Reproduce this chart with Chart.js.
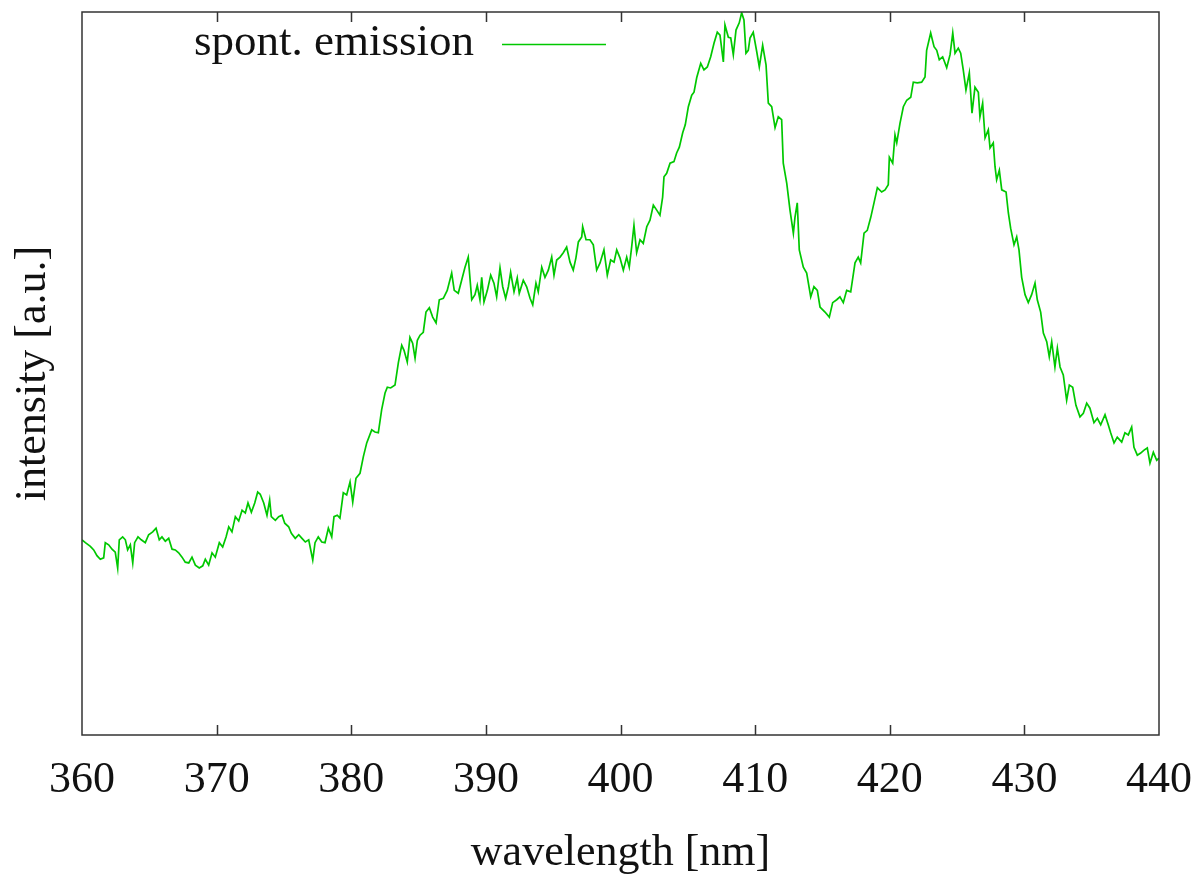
<!DOCTYPE html>
<html>
<head>
<meta charset="utf-8">
<script src="https://cdn.jsdelivr.net/npm/chart.js@4.4.1/dist/chart.umd.min.js"></script>
<style>
  html, body { margin: 0; padding: 0; background: #fff; }
  #wrap { width: 1197px; height: 875px; }
</style>
</head>
<body>
<div id="wrap"><canvas id="chart" width="1197" height="875"></canvas></div>
<script>
'use strict';

// ── dados ───────────────────────────────────────────────────────────────────
const X_TICKS = [360, 370, 380, 390, 400, 410, 420, 430, 440];
const SERIES_LABEL = 'spont. emission';

const WAVELENGTH = [
  360.00, 360.25, 360.62, 360.87, 361.11, 361.36, 361.61, 361.73, 361.98, 362.23,
  362.47, 362.65, 362.77, 363.02, 363.22, 363.39, 363.59, 363.77, 363.91, 364.16,
  364.40, 364.70, 364.95, 365.25, 365.50, 365.74, 365.94, 366.19, 366.44, 366.69,
  366.93, 367.18, 367.43, 367.67, 367.93, 368.17, 368.42, 368.71, 368.97, 369.16,
  369.41, 369.66, 369.90, 370.20, 370.45, 370.70, 370.90, 371.14, 371.39, 371.64,
  371.89, 372.13, 372.33, 372.58, 372.83, 373.05, 373.24, 373.50, 373.74, 373.94,
  374.06, 374.36, 374.61, 374.86, 375.06, 375.35, 375.55, 375.84, 376.10, 376.34,
  376.59, 376.84, 377.14, 377.31, 377.55, 377.81, 378.05, 378.30, 378.55, 378.72,
  378.96, 379.16, 379.41, 379.66, 379.91, 380.11, 380.35, 380.65, 380.90, 381.15,
  381.52, 381.76, 382.01, 382.26, 382.51, 382.68, 382.93, 383.25, 383.50, 383.75,
  383.92, 384.16, 384.36, 384.56, 384.74, 384.91, 385.11, 385.35, 385.55, 385.80,
  386.05, 386.30, 386.54, 386.84, 387.13, 387.46, 387.65, 387.95, 388.20, 388.45,
  388.69, 388.95, 389.19, 389.36, 389.56, 389.69, 389.86, 390.11, 390.36, 390.60,
  390.80, 391.05, 391.25, 391.47, 391.67, 391.84, 392.09, 392.33, 392.48, 392.78,
  393.03, 393.28, 393.48, 393.72, 393.89, 394.15, 394.39, 394.64, 394.89, 395.06,
  395.26, 395.51, 395.75, 396.00, 396.25, 396.49, 396.69, 396.87, 397.12, 397.19,
  397.44, 397.73, 397.98, 398.23, 398.48, 398.77, 399.02, 399.27, 399.52, 399.72,
  399.96, 400.21, 400.46, 400.65, 400.83, 401.00, 401.20, 401.45, 401.69, 401.95,
  402.19, 402.44, 402.69, 402.93, 403.13, 403.23, 403.43, 403.68, 403.97, 404.17,
  404.37, 404.62, 404.81, 405.04, 405.29, 405.46, 405.66, 405.96, 406.20, 406.45,
  406.70, 406.95, 407.19, 407.39, 407.64, 407.76, 408.01, 408.19, 408.38, 408.58,
  408.82, 409.00, 409.17, 409.32, 409.49, 409.62, 409.86, 410.12, 410.31, 410.56,
  410.81, 410.98, 411.23, 411.48, 411.72, 411.97, 412.09, 412.35, 412.59, 412.84,
  412.96, 413.13, 413.28, 413.58, 413.83, 414.13, 414.37, 414.62, 414.82, 415.19,
  415.51, 415.76, 416.06, 416.30, 416.55, 416.80, 417.10, 417.42, 417.66, 417.84,
  418.09, 418.33, 418.59, 418.83, 419.08, 419.40, 419.65, 419.89, 419.97, 420.22,
  420.39, 420.52, 420.76, 421.01, 421.26, 421.56, 421.75, 422.05, 422.37, 422.62,
  422.74, 423.04, 423.29, 423.49, 423.68, 423.93, 424.23, 424.48, 424.68, 424.85,
  425.09, 425.27, 425.46, 425.66, 425.91, 426.11, 426.33, 426.58, 426.70, 426.90,
  427.08, 427.32, 427.45, 427.69, 427.82, 427.94, 428.14, 428.32, 428.64, 428.81,
  428.98, 429.23, 429.43, 429.60, 429.80, 430.05, 430.29, 430.54, 430.79, 430.96,
  431.21, 431.41, 431.66, 431.85, 432.03, 432.27, 432.45, 432.65, 432.89, 433.14,
  433.34, 433.59, 433.83, 434.13, 434.38, 434.63, 434.87, 435.17, 435.42, 435.67,
  435.99, 436.23, 436.41, 436.66, 436.90, 437.23, 437.47, 437.72, 437.97, 438.14,
  438.39, 438.64, 438.89, 439.13, 439.33, 439.58, 439.83, 440.00
];

const INTENSITY = [
  0.270, 0.266, 0.261, 0.256, 0.248, 0.243, 0.245, 0.266, 0.263, 0.257,
  0.253, 0.231, 0.270, 0.274, 0.270, 0.256, 0.263, 0.238, 0.266, 0.274,
  0.270, 0.266, 0.277, 0.281, 0.286, 0.270, 0.274, 0.268, 0.272, 0.257,
  0.256, 0.252, 0.246, 0.239, 0.238, 0.246, 0.235, 0.231, 0.234, 0.243,
  0.235, 0.252, 0.246, 0.266, 0.260, 0.274, 0.288, 0.281, 0.302, 0.296,
  0.311, 0.307, 0.321, 0.308, 0.321, 0.336, 0.333, 0.321, 0.304, 0.325,
  0.302, 0.297, 0.302, 0.304, 0.293, 0.288, 0.279, 0.272, 0.277, 0.272,
  0.267, 0.270, 0.242, 0.266, 0.274, 0.267, 0.266, 0.286, 0.274, 0.302,
  0.304, 0.300, 0.335, 0.332, 0.350, 0.322, 0.355, 0.362, 0.385, 0.404,
  0.422, 0.419, 0.418, 0.450, 0.473, 0.481, 0.480, 0.484, 0.515, 0.539,
  0.532, 0.516, 0.550, 0.542, 0.521, 0.546, 0.553, 0.557, 0.585, 0.591,
  0.578, 0.570, 0.602, 0.604, 0.615, 0.639, 0.615, 0.611, 0.629, 0.647,
  0.661, 0.602, 0.609, 0.622, 0.602, 0.633, 0.599, 0.615, 0.636, 0.625,
  0.606, 0.646, 0.620, 0.604, 0.620, 0.640, 0.613, 0.632, 0.611, 0.629,
  0.620, 0.604, 0.595, 0.625, 0.613, 0.647, 0.633, 0.643, 0.661, 0.636,
  0.657, 0.661, 0.667, 0.675, 0.654, 0.643, 0.660, 0.682, 0.689, 0.703,
  0.685, 0.685, 0.678, 0.643, 0.653, 0.671, 0.636, 0.657, 0.654, 0.671,
  0.660, 0.643, 0.661, 0.647, 0.675, 0.705, 0.667, 0.685, 0.680, 0.703,
  0.712, 0.733, 0.726, 0.719, 0.744, 0.772, 0.777, 0.791, 0.793, 0.805,
  0.813, 0.833, 0.844, 0.869, 0.885, 0.889, 0.909, 0.929, 0.920, 0.924,
  0.938, 0.957, 0.972, 0.968, 0.931, 0.982, 0.965, 0.964, 0.941, 0.975,
  0.985, 0.999, 0.989, 0.943, 0.947, 0.964, 0.972, 0.945, 0.924, 0.954,
  0.927, 0.874, 0.869, 0.840, 0.855, 0.851, 0.791, 0.763, 0.726, 0.694,
  0.716, 0.736, 0.671, 0.647, 0.639, 0.606, 0.620, 0.615, 0.592, 0.585,
  0.578, 0.598, 0.602, 0.606, 0.598, 0.615, 0.613, 0.653, 0.661, 0.653,
  0.694, 0.698, 0.716, 0.736, 0.757, 0.751, 0.754, 0.761, 0.799, 0.791,
  0.830, 0.819, 0.846, 0.869, 0.878, 0.882, 0.903, 0.902, 0.903, 0.910,
  0.947, 0.971, 0.952, 0.947, 0.934, 0.938, 0.923, 0.941, 0.971, 0.943,
  0.950, 0.943, 0.920, 0.892, 0.916, 0.860, 0.896, 0.889, 0.855, 0.874,
  0.826, 0.837, 0.812, 0.819, 0.786, 0.768, 0.781, 0.754, 0.751, 0.722,
  0.701, 0.678, 0.689, 0.671, 0.633, 0.609, 0.598, 0.609, 0.625, 0.602,
  0.585, 0.556, 0.544, 0.523, 0.544, 0.509, 0.535, 0.509, 0.498, 0.463,
  0.484, 0.481, 0.456, 0.440, 0.445, 0.459, 0.452, 0.432, 0.438, 0.429,
  0.443, 0.429, 0.418, 0.404, 0.412, 0.405, 0.418, 0.415, 0.426, 0.398,
  0.387, 0.390, 0.394, 0.397, 0.376, 0.391, 0.380, 0.383
];

// ── estilo ──────────────────────────────────────────────────────────────────
const COLOR_LINE  = '#00c800';
const COLOR_FRAME = '#333333';
const COLOR_TEXT  = '#111111';
const FONT_FAMILY = '"Liberation Serif", "Times New Roman", serif';

// moldura + ticks para dentro (em cima e em baixo)
const framePlugin = {
    id: 'frame',
    afterDraw(chart) {
        const { ctx, chartArea: a } = chart;
        const xs = chart.scales.x;
        ctx.save();
        ctx.strokeStyle = COLOR_FRAME;
        ctx.lineWidth = 1.5;
        ctx.strokeRect(a.left, a.top, a.right - a.left, a.bottom - a.top);
        ctx.beginPath();
        X_TICKS.slice(1, -1).forEach(v => {
            const px = Math.round(xs.getPixelForValue(v)) + 0.5;
            ctx.moveTo(px, a.bottom);
            ctx.lineTo(px, a.bottom - 10);
            ctx.moveTo(px, a.top);
            ctx.lineTo(px, a.top + 10);
        });
        ctx.stroke();
        ctx.restore();
    },
};

// legenda estilo gnuplot: texto à direita, amostra da linha à esquerda
const keyPlugin = {
    id: 'gnuKey',
    afterDraw(chart) {
        const { ctx } = chart;
        ctx.save();
        ctx.font = `45px ${FONT_FAMILY}`;
        ctx.fillStyle = COLOR_TEXT;
        ctx.textAlign = 'right';
        ctx.textBaseline = 'alphabetic';
        ctx.fillText(SERIES_LABEL, 474, 55);
        ctx.strokeStyle = COLOR_LINE;
        ctx.lineWidth = 1.5;
        ctx.beginPath();
        ctx.moveTo(502, 44.5);
        ctx.lineTo(606, 44.5);
        ctx.stroke();
        ctx.restore();
    },
};

new Chart(document.getElementById('chart'), {
    type: 'line',
    data: {
        datasets: [{
            label: SERIES_LABEL,
            data: WAVELENGTH.map((w, i) => ({ x: w, y: INTENSITY[i] })),
            borderColor: COLOR_LINE,
            borderWidth: 1.7,
            pointRadius: 0,
            tension: 0,
            fill: false,
        }],
    },
    options: {
        responsive: false,
        animation: false,
        layout: { padding: { top: 12, right: 38, left: 0, bottom: 0 } },
        plugins: { legend: { display: false }, tooltip: { enabled: false } },
        scales: {
            x: {
                type: 'linear',
                min: 360,
                max: 440,
                afterBuildTicks: s => { s.ticks = X_TICKS.map(v => ({ value: v })); },
                afterFit: s => {
                    s.height = 140;
                    s.paddingLeft = 0;
                    s.paddingRight = 0;
                },
                grid: { display: false, drawTicks: false },
                border: { display: false },
                ticks: {
                    color: COLOR_TEXT,
                    padding: 23,
                    maxRotation: 0,
                    autoSkip: false,
                    font: { family: FONT_FAMILY, size: 44, lineHeight: 1 },
                },
                title: {
                    display: true,
                    text: 'wavelength [nm]',
                    color: COLOR_TEXT,
                    padding: { top: 0, bottom: 0 },
                    font: { family: FONT_FAMILY, size: 44, lineHeight: 1 },
                },
            },
            y: {
                min: 0,
                max: 1,
                afterFit: s => { s.width = 82; },
                grid: { display: false, drawTicks: false },
                border: { display: false },
                ticks: { display: false },
                title: {
                    display: true,
                    text: 'intensity [a.u.]',
                    color: COLOR_TEXT,
                    padding: { top: 11, bottom: 0 },
                    font: { family: FONT_FAMILY, size: 44, lineHeight: 1 },
                },
            },
        },
    },
    plugins: [framePlugin, keyPlugin],
});
</script>
</body>
</html>
